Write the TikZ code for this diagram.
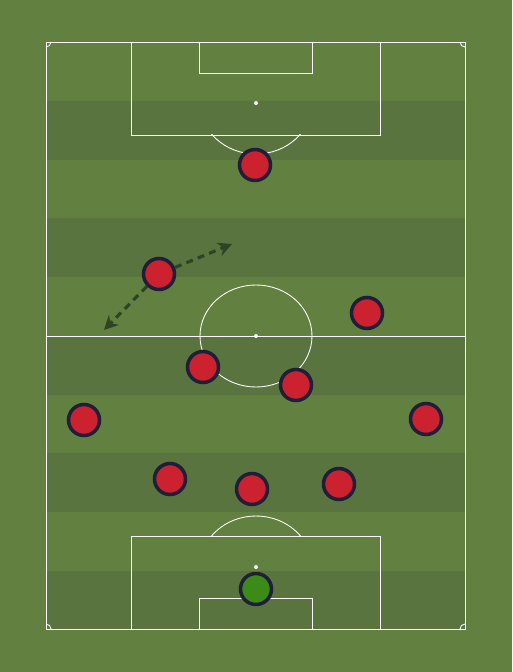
\documentclass[tikz,border=0pt]{standalone}
\usepackage{tikz}
\usetikzlibrary{arrows.meta}
\definecolor{grass}{HTML}{62803F}
\definecolor{grassdark}{HTML}{5A743F}
\definecolor{shirt}{HTML}{CC2230}
\definecolor{keeper}{HTML}{3C8A17}
\definecolor{rim}{HTML}{1F1F3A}
\definecolor{run}{HTML}{2E4424}
\tikzstyle{pitchline} = [draw=white, line width=0.5pt]
\tikzstyle{player} = [circle, minimum size=0.62cm, inner sep=0pt, draw=rim, line width=2pt, fill=shirt]
\tikzstyle{goalie} = [player, fill=keeper]
\tikzstyle{runarrow} = [draw=run, line width=1.8pt, dash pattern=on 4pt off 3pt, -{Stealth[length=8pt,width=8pt]}]

\begin{document}
\begin{tikzpicture}[x=0.02cm, y=-0.02cm]
	\fill[grass] (0,0) rectangle (512,672);
	\useasboundingbox (0,0) rectangle (512,672);
	% stripes
	\foreach \y in {101,218.4,335.8,453.2,570.6}
		\fill[grassdark] (46,\y) rectangle (465,\y+58.7);
	% markings
	\draw[pitchline] (46,42) rectangle (465,629);
	\draw[pitchline] (46,336) -- (465,336);
	\draw[pitchline] (256,336) ellipse (56 and 51);
	\fill[white] (256,336) circle (2);
	\draw[pitchline] (131,42) rectangle (380,135);
	\draw[pitchline] (199,42) rectangle (312,73);
	\fill[white] (256,103) circle (2);
	\draw[pitchline] (131,629) rectangle (380,536);
	\draw[pitchline] (199,629) rectangle (312,598);
	\fill[white] (256,567) circle (2);
	\begin{scope}
		\clip (46,0) rectangle (465,536);
		\draw[pitchline] (256,567) ellipse (56 and 51);
	\end{scope}
	\begin{scope}
		\clip (46,135) rectangle (465,336);
		\draw[pitchline] (256,103) ellipse (56 and 51);
	\end{scope}
	% corners
	\draw[pitchline] (51,42) arc[start angle=0, end angle=90, radius=5];
	\draw[pitchline] (460,42) arc[start angle=180, end angle=90, radius=5];
	\draw[pitchline] (51,629) arc[start angle=0, end angle=-90, radius=5];
	\draw[pitchline] (460,629) arc[start angle=180, end angle=270, radius=5];
	% players
	\node (st) [player] at (255,165) {};
	\node (lw) [player] at (159,274) {};
	\node (rw) [player] at (367,313) {};
	\node (lcm) [player] at (203,367) {};
	\node (rcm) [player] at (296,385) {};
	\node (lb) [player] at (84,420) {};
	\node (rb) [player] at (426,419) {};
	\node (lcb) [player] at (170,479) {};
	\node (cb) [player] at (252,489) {};
	\node (rcb) [player] at (339,484) {};
	\node (gk) [goalie] at (256,589) {};
	% runs
	\coordinate (runfwd) at (232,244);
	\coordinate (runback) at (104,330);
	\draw [runarrow] (lw) -- (runfwd);
	\draw [runarrow] (lw) -- (runback);
\end{tikzpicture}
\end{document}
